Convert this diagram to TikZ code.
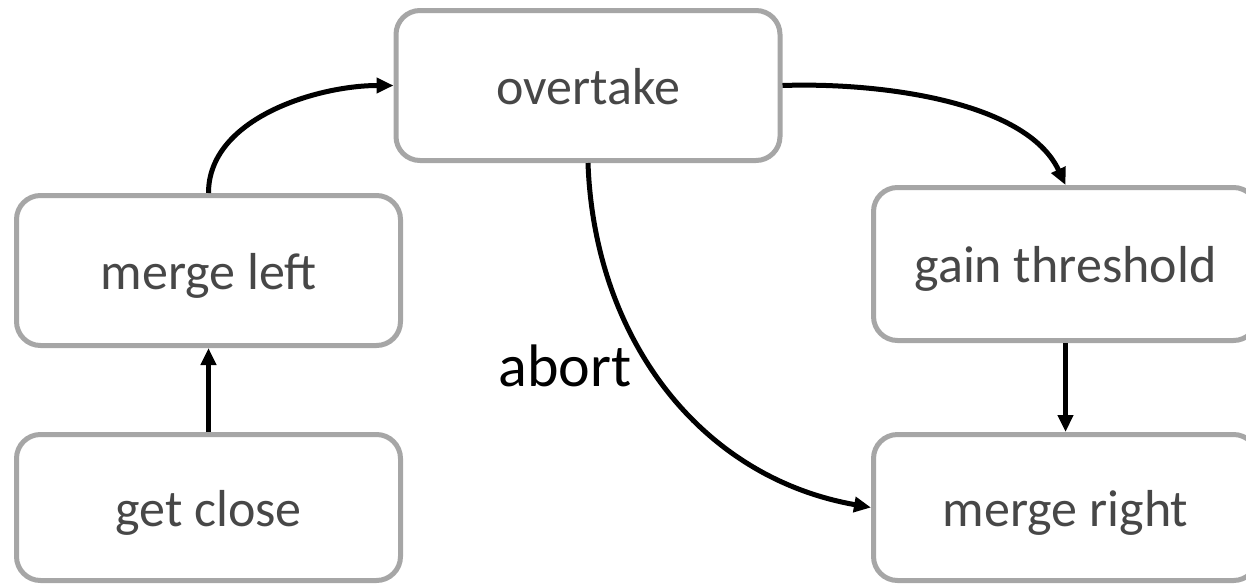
\documentclass[tikz,border=0pt]{standalone}
\usepackage{fontspec}
\setmainfont{Carlito}
\usetikzlibrary{arrows.meta}
\definecolor{boxgray}{HTML}{A6A6A6}
\definecolor{txtgray}{HTML}{474747}
\begin{document}
\begin{tikzpicture}[x=1pt,y=-1pt,
  statebox/.style={draw=boxgray,line width=5pt,rounded corners=24pt,fill=white,
    minimum width=384pt,minimum height=150pt,inner sep=0pt,
    text height=43pt,text depth=6pt,
    font=\fontsize{52}{56}\selectfont,text=txtgray},
  conn/.style={line width=5pt,-{Triangle[length=17pt,width=15pt]}}]
\useasboundingbox (0,0) rectangle (1246,584);
\begin{scope}
\clip (0,0) rectangle (1246,584);
\node[statebox] (over) at (588,85.5) {overtake};
\node[statebox] (left) at (208.5,270.5) {merge left};
\node[statebox,minimum height=146pt] (close) at (208.5,507.5) {get close};
\node[statebox,minimum height=153pt] (gain) at (1065.5,264) {gain threshold};
\node[statebox,minimum height=146pt] (right) at (1065.5,507.5) {merge right};
\draw[conn] (close.north) -- (left.south);
\draw[conn] (left.north) to[out=90,in=180,looseness=0.9] (over.west);
\draw[conn] (over.east) to[out=2,in=115,looseness=0.8] (gain.north);
\draw[conn] (gain.south) -- (right.north);
\draw[conn] (over.south) to[out=-88,in=170,looseness=1.0] (right.west);
\node[font=\fontsize{60}{64}\selectfont,text=black] (abort) at (565,366) {abort};
\end{scope}
\end{tikzpicture}
\end{document}
